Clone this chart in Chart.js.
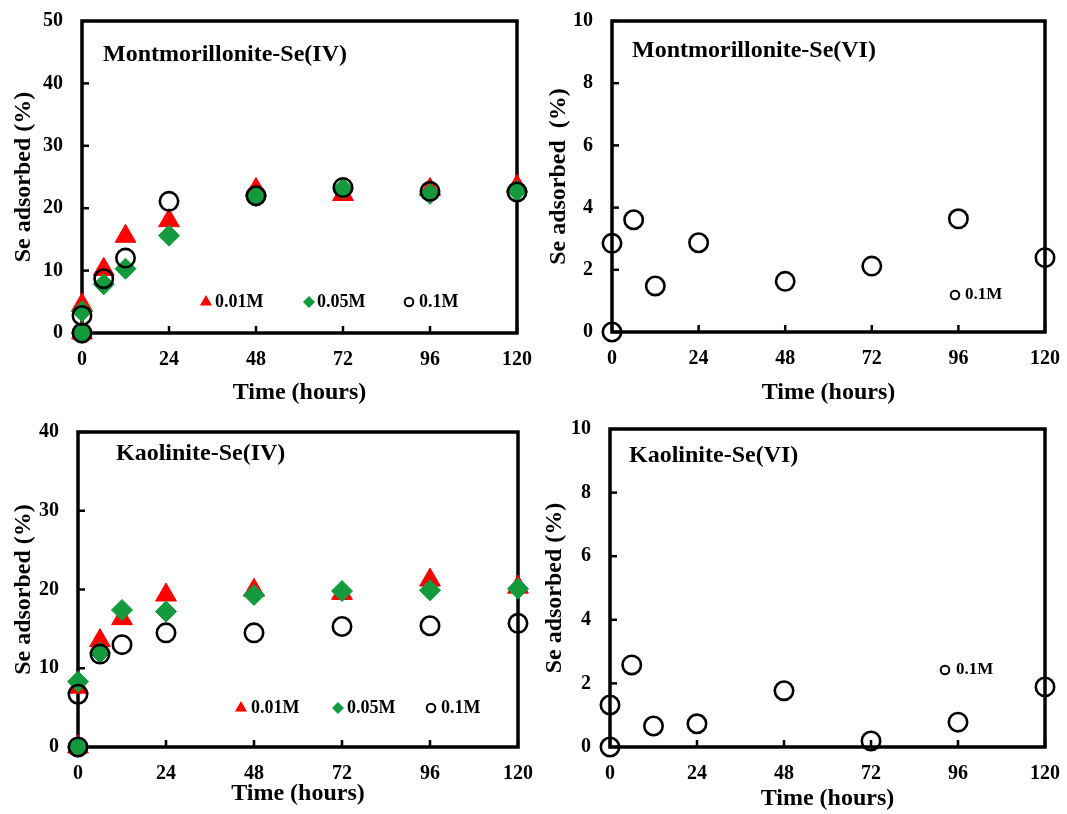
<!DOCTYPE html>
<html>
<head>
<meta charset="utf-8">
<script src="https://cdn.jsdelivr.net/npm/chart.js"></script>
<style>
  body { margin: 0; background: #fff; }
  #wrap { position: relative; width: 1067px; height: 814px; }
  canvas { position: absolute; }
</style>
</head>
<body>
<div id="wrap">
  <canvas id="c1" width="533" height="407" style="left:0;top:0"></canvas>
  <canvas id="c2" width="534" height="407" style="left:533px;top:0"></canvas>
  <canvas id="c3" width="533" height="407" style="left:0;top:407px"></canvas>
  <canvas id="c4" width="534" height="407" style="left:533px;top:407px"></canvas>
</div>
<script>
// sampling times (two readings at t = 0)
const hours = [0, 0, 6, 12, 24, 48, 72, 96, 120];
const xTicks = [0, 24, 48, 72, 96, 120];
const yTicksSe4Mont = [0, 10, 20, 30, 40, 50];
const yTicksSe4Kaol = [0, 10, 20, 30, 40];
const yTicksSe6 = [0, 2, 4, 6, 8, 10];

// Montmorillonite-Se(IV)
const montSe4_001M = [0, 4.5, 10.2, 15.5, 18.0, 23.0, 22.2, 23.0, 23.5];
const montSe4_005M = [0, 3.5, 7.8, 10.3, 15.6, 21.9, 23.1, 22.3, 22.8];
const montSe4_01M  = [0, 2.8, 8.7, 12.0, 21.1, 22.0, 23.3, 22.7, 22.6];
// Montmorillonite-Se(VI)
const montSe6_01M  = [0, 2.85, 3.61, 1.48, 2.87, 1.63, 2.12, 3.64, 2.39];
// Kaolinite-Se(IV)
const kaolSe4_001M = [0, 7.6, 13.5, 16.3, 19.3, 19.9, 19.5, 21.2, 20.3];
const kaolSe4_005M = [0, 8.3, 12.0, 17.4, 17.2, 19.3, 19.8, 19.9, 20.1];
const kaolSe4_01M  = [0, 6.7, 11.8, 13.0, 14.5, 14.5, 15.3, 15.4, 15.7];
// Kaolinite-Se(VI)
const kaolSe6_01M  = [0, 1.32, 2.58, 0.66, 0.73, 1.77, 0.19, 0.78, 1.89];

const FONT = "'Liberation Serif', 'Times New Roman', serif";
const RED = '#ff0000';
const GREEN = '#129a3c';

const seriesStyle = {
  '0.01M': { pointStyle: 'triangle', pointRadius: 12, backgroundColor: RED, borderColor: RED, borderWidth: 1, order: 3 },
  '0.05M': { pointStyle: 'rectRot', pointRadius: 10.5, backgroundColor: GREEN, borderColor: GREEN, borderWidth: 1, order: 2 },
  '0.1M':  { pointStyle: 'circle', pointRadius: 9.2, backgroundColor: 'rgba(0,0,0,0)', borderColor: '#000', borderWidth: 2.6, order: 1 }
};

function toPoints(vals) {
  return hours.map((h, i) => ({ x: h, y: vals[i] }));
}

function drawMarker(ctx, style, x, y) {
  ctx.save();
  ctx.beginPath();
  if (style === '0.01M') {
    const r = 7;
    ctx.moveTo(x, y - r);
    ctx.lineTo(x + r * 0.866, y + r / 2);
    ctx.lineTo(x - r * 0.866, y + r / 2);
    ctx.closePath();
    ctx.fillStyle = RED;
    ctx.fill();
  } else if (style === '0.05M') {
    const r = 6;
    ctx.moveTo(x, y - r);
    ctx.lineTo(x + r, y);
    ctx.lineTo(x, y + r);
    ctx.lineTo(x - r, y);
    ctx.closePath();
    ctx.fillStyle = GREEN;
    ctx.fill();
  } else {
    ctx.arc(x, y, 4.3, 0, Math.PI * 2);
    ctx.lineWidth = 2;
    ctx.strokeStyle = '#000';
    ctx.stroke();
  }
  ctx.restore();
}

function decoPlugin(p) {
  return {
    id: 'deco',
    beforeDatasetsDraw(chart) {
      const { ctx, chartArea: a, scales } = chart;
      ctx.save();
      ctx.strokeStyle = '#000';
      ctx.lineWidth = 2.5;
      p.yTicks.forEach(v => {
        const y = scales.y.getPixelForValue(v);
        ctx.beginPath(); ctx.moveTo(a.left, y); ctx.lineTo(a.left + 7, y); ctx.stroke();
      });
      xTicks.forEach(v => {
        const x = scales.x.getPixelForValue(v);
        ctx.beginPath(); ctx.moveTo(x, a.bottom); ctx.lineTo(x, a.bottom - 7); ctx.stroke();
      });
      ctx.lineWidth = 3.5;
      ctx.strokeRect(a.left, a.top, a.right - a.left, a.bottom - a.top);
      ctx.fillStyle = '#000';
      ctx.font = 'bold 24px ' + FONT;
      ctx.textBaseline = 'alphabetic';
      ctx.textAlign = 'left';
      ctx.fillText(p.title, p.titleX, p.titleY);
      ctx.restore();
    },
    afterDraw(chart) {
      const ctx = chart.ctx;
      ctx.save();
      ctx.fillStyle = '#000';
      ctx.font = 'bold ' + p.legendFont + 'px ' + FONT;
      ctx.textBaseline = 'middle';
      ctx.textAlign = 'left';
      p.legend.forEach(item => {
        drawMarker(ctx, item.series, item.mx, p.legendY);
        ctx.fillStyle = '#000';
        ctx.fillText(item.series, item.tx, p.legendY);
      });
      ctx.restore();
    }
  };
}

function makePanel(p) {
  const canvas = document.getElementById(p.id);
  const W = canvas.width, H = canvas.height;
  const datasets = p.series.map(s => Object.assign({
    label: s.name,
    data: toPoints(s.values),
    clip: false
  }, seriesStyle[s.name]));

  new Chart(canvas.getContext('2d'), {
    type: 'scatter',
    data: { datasets },
    options: {
      responsive: false,
      animation: false,
      events: [],
      layout: { padding: { left: 0, top: p.plot.t, right: W - p.plot.r, bottom: 0 } },
      plugins: { legend: { display: false }, tooltip: { enabled: false } },
      scales: {
        x: {
          type: 'linear', min: 0, max: 120,
          afterFit: s => { s.height = H - p.plot.b; s.paddingLeft = 0; s.paddingRight = 0; },
          afterBuildTicks: s => { s.ticks = xTicks.map(v => ({ value: v })); },
          grid: { display: false, drawTicks: false },
          border: { display: false },
          ticks: { autoSkip: false, maxRotation: 0, padding: 15, color: '#000',
                   font: { family: FONT, size: 20, weight: 'bold' } },
          title: { display: true, text: 'Time (hours)', color: '#000',
                   font: { family: FONT, size: 24, weight: 'bold' },
                   padding: { top: 0, bottom: p.xTitlePad } }
        },
        y: {
          type: 'linear', min: 0, max: p.yTicks[p.yTicks.length - 1],
          afterFit: s => { s.width = p.plot.l; s.paddingTop = 0; s.paddingBottom = 0; },
          afterBuildTicks: s => { s.ticks = p.yTicks.map(v => ({ value: v })); },
          grid: { display: false, drawTicks: false },
          border: { display: false },
          ticks: { autoSkip: false, padding: 19, color: '#000',
                   font: { family: FONT, size: 20, weight: 'bold' } },
          title: { display: true, text: p.yTitle, color: '#000',
                   font: { family: FONT, size: 24, weight: 'bold' },
                   padding: { top: p.yTitlePad, bottom: 0 } }
        }
      }
    },
    plugins: [decoPlugin(p)]
  });
}

makePanel({
  id: 'c1', plot: { l: 82, t: 21, r: 517, b: 333 },
  yTicks: yTicksSe4Mont, yTitle: 'Se adsorbed (%)', yTitlePad: 9.6, xTitlePad: 0,
  title: 'Montmorillonite-Se(IV)', titleX: 103, titleY: 61,
  series: [
    { name: '0.01M', values: montSe4_001M },
    { name: '0.05M', values: montSe4_005M },
    { name: '0.1M', values: montSe4_01M }
  ],
  legendY: 302, legendFont: 18,
  legend: [
    { series: '0.01M', mx: 206, tx: 215 },
    { series: '0.05M', mx: 309, tx: 317 },
    { series: '0.1M', mx: 409, tx: 419 }
  ]
});

makePanel({
  id: 'c2', plot: { l: 79, t: 21, r: 512, b: 332 },
  yTicks: yTicksSe6, yTitle: 'Se adsorbed  (%)', yTitlePad: 11, xTitlePad: 0,
  title: 'Montmorillonite-Se(VI)', titleX: 99, titleY: 57,
  series: [ { name: '0.1M', values: montSe6_01M } ],
  legendY: 295, legendFont: 17,
  legend: [ { series: '0.1M', mx: 422, tx: 432 } ]
});

makePanel({
  id: 'c3', plot: { l: 78, t: 25, r: 518, b: 340 },
  yTicks: yTicksSe4Kaol, yTitle: 'Se adsorbed (%)', yTitlePad: 9, xTitlePad: 5.6,
  title: 'Kaolinite-Se(IV)', titleX: 116, titleY: 53,
  series: [
    { name: '0.01M', values: kaolSe4_001M },
    { name: '0.05M', values: kaolSe4_005M },
    { name: '0.1M', values: kaolSe4_01M }
  ],
  legendY: 301, legendFont: 18,
  legend: [
    { series: '0.01M', mx: 241, tx: 251 },
    { series: '0.05M', mx: 338, tx: 347 },
    { series: '0.1M', mx: 431, tx: 441 }
  ]
});

makePanel({
  id: 'c4', plot: { l: 77, t: 22, r: 512, b: 340 },
  yTicks: yTicksSe6, yTitle: 'Se adsorbed (%)', yTitlePad: 7.6, xTitlePad: 0.6,
  title: 'Kaolinite-Se(VI)', titleX: 96, titleY: 55,
  series: [ { name: '0.1M', values: kaolSe6_01M } ],
  legendY: 263, legendFont: 17,
  legend: [ { series: '0.1M', mx: 412, tx: 423 } ]
});
</script>
</body>
</html>
